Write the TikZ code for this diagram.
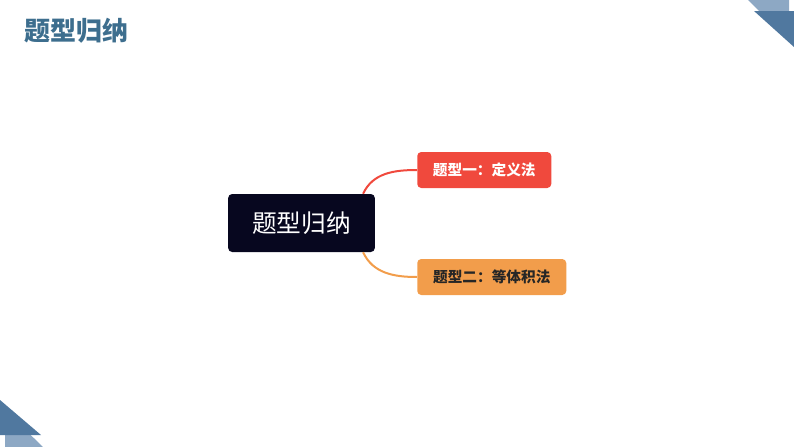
\documentclass[tikz,border=0pt]{standalone}
\usepackage{fontspec}
\newfontfamily\cjk{Noto Sans CJK SC}
\usetikzlibrary{positioning}
\definecolor{titleblue}{HTML}{3D6E8E}
\definecolor{darkblue}{HTML}{50789F}
\definecolor{lightblue}{HTML}{8DA8C4}
\definecolor{navy}{HTML}{07071F}
\definecolor{redbox}{HTML}{F0493D}
\definecolor{orangebox}{HTML}{F29D4B}
\tikzset{
  topic/.style={fill=#1, rounded corners=3pt, inner sep=0pt, minimum height=27pt, anchor=west, font=\cjk\bfseries\fontsize{11}{13}\selectfont},
  branch/.style={line width=1.5pt, #1}
}

\begin{document}
\begin{tikzpicture}[x=0.75pt, y=-0.75pt]
  \useasboundingbox (0,0) rectangle (794,447);
  % corner marks
  \fill[lightblue] (748,0) -- (789,0) -- (789,41) -- cycle;
  \fill[darkblue] (754,11) -- (794,11) -- (794,47) -- cycle;
  \fill[lightblue] (5,410) -- (5,447) -- (43,447) -- cycle;
  \fill[darkblue] (0,400) -- (0,435) -- (41,435) -- cycle;
  % heading
  \node[anchor=west, text=titleblue, font=\cjk\bfseries\fontsize{19.5}{22}\selectfont, inner sep=0pt] (T) at (24,31) {题型归纳};
  % map
  \node[fill=navy, rounded corners=3pt, text=white, minimum width=110pt, minimum height=43.5pt, font=\cjk\fontsize{18.5}{21}\selectfont] (C) at (301.5,223) {题型归纳};
  \node[topic=redbox, text=white, minimum width=100.5pt] (R) at (417,170) {题型一：定义法};
  \node[topic=orangebox, text=black!85, minimum width=111.75pt] (O) at (417,277) {题型二：等体积法};
  \draw[branch=redbox] ([xshift=-9pt]C.north east) to [out=65, in=180] (R.west);
  \draw[branch=orangebox] ([xshift=-9pt]C.south east) to [out=-65, in=180] (O.west);
\end{tikzpicture}
\end{document}
